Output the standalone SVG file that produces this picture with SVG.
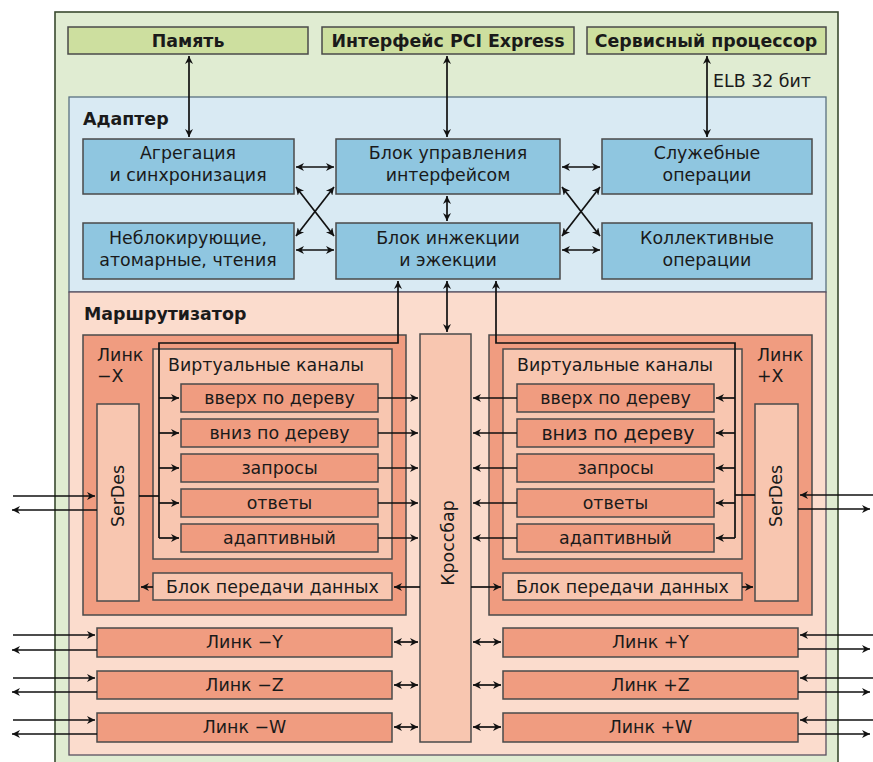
<svg xmlns="http://www.w3.org/2000/svg" width="873" height="762" viewBox="0 0 873 762">
<defs>
<marker id="ah" viewBox="0 0 10 10" refX="10" refY="5" markerWidth="11" markerHeight="8" markerUnits="userSpaceOnUse" orient="auto-start-reverse"><path d="M0,0 L10,5 L0,10 L3,5 z" fill="#111"/></marker>
<style>
text{font-family:"DejaVu Sans",Verdana,sans-serif;font-size:17.4px;fill:#1a1a1a}
.b{font-weight:bold}
.c{text-anchor:middle}
.bx{stroke:#4a4a4a;stroke-width:1.5}
.top{fill:#cddf9f}
.blue{fill:#8fc6e0}
.sal{fill:#f09c80}
.lt{fill:#f8c6b0}
.ln{fill:none;stroke:#111;stroke-width:1.7}
.a2{marker-start:url(#ah);marker-end:url(#ah)}
.a1{marker-end:url(#ah)}
</style>
</defs>
<rect width="873" height="762" fill="#ffffff"/>
<g id="chip"><rect x="55" y="12" width="783" height="760" fill="#e0ecd2" stroke="#3a4a30" stroke-width="1.6"/></g>
<g id="mem"><rect class="bx top" x="68" y="27" width="240" height="27"/><text class="b c" x="188" y="47">Память</text></g>
<g id="pci"><rect class="bx top" x="322" y="27" width="252" height="27"/><text class="b c" x="448" y="47">Интерфейс PCI Express</text></g>
<g id="sp"><rect class="bx top" x="587" y="27" width="239" height="27"/><text class="b c" x="706" y="47">Сервисный процессор</text></g>
<text x="713" y="87">ELB 32 бит</text>
<g id="adapter"><rect x="69" y="97" width="757" height="195" fill="#d9eaf3" stroke="#5a7080" stroke-width="1.3"/><text class="b" x="83" y="125">Адаптер</text></g>
<g id="agg"><rect class="bx blue" x="83" y="139" width="211" height="55"/><text class="c" x="188" y="159">Агрегация</text><text class="c" x="188" y="181">и синхронизация</text></g>
<g id="ifc"><rect class="bx blue" x="336" y="139" width="224" height="55"/><text class="c" x="448" y="159">Блок управления</text><text class="c" x="448" y="181">интерфейсом</text></g>
<g id="svc"><rect class="bx blue" x="602" y="139" width="210" height="55"/><text class="c" x="707" y="159">Служебные</text><text class="c" x="707" y="181">операции</text></g>
<g id="nb"><rect class="bx blue" x="83" y="223" width="211" height="56"/><text class="c" x="188" y="244">Неблокирующие,</text><text class="c" x="188" y="266">атомарные, чтения</text></g>
<g id="inj"><rect class="bx blue" x="336" y="223" width="224" height="56"/><text class="c" x="448" y="244">Блок инжекции</text><text class="c" x="448" y="266">и эжекции</text></g>
<g id="coll"><rect class="bx blue" x="602" y="223" width="210" height="56"/><text class="c" x="707" y="244">Коллективные</text><text class="c" x="707" y="266">операции</text></g>
<g id="router"><rect x="69" y="292" width="757" height="463" fill="#fbdccd" stroke="#5a5060" stroke-width="1.3"/><text class="b" x="84" y="320">Маршрутизатор</text></g>
<g id="linkmx"><rect class="bx sal" x="83" y="335" width="323" height="280"/><text x="97" y="361">Линк</text><text x="97" y="382">−X</text></g>
<g id="linkpx"><rect class="bx sal" x="489" y="335" width="323" height="280"/><text x="757" y="361">Линк</text><text x="757" y="382">+X</text></g>
<g id="vcl"><rect class="bx lt" x="153" y="349" width="239" height="210"/><text x="168" y="371">Виртуальные каналы</text>
<rect class="bx sal" x="181" y="384" width="197" height="28"/><text class="c" x="279.5" y="404">вверх по дереву</text>
<rect class="bx sal" x="181" y="419" width="197" height="28"/><text class="c" x="279.5" y="439">вниз по дереву</text>
<rect class="bx sal" x="181" y="454" width="197" height="28"/><text class="c" x="279.5" y="474">запросы</text>
<rect class="bx sal" x="181" y="489" width="197" height="28"/><text class="c" x="279.5" y="509">ответы</text>
<rect class="bx sal" x="181" y="524" width="197" height="28"/><text class="c" x="279.5" y="544">адаптивный</text></g>
<g id="vcr"><rect class="bx lt" x="503" y="349" width="239" height="210"/><text x="517" y="371">Виртуальные каналы</text>
<rect class="bx sal" x="517" y="384" width="197" height="28"/><text class="c" x="615.5" y="404">вверх по дереву</text>
<rect class="bx sal" x="517" y="419" width="197" height="28"/><text class="c" x="618" y="440" style="font-size:19px">вниз по дереву</text>
<rect class="bx sal" x="517" y="454" width="197" height="28"/><text class="c" x="615.5" y="474">запросы</text>
<rect class="bx sal" x="517" y="489" width="197" height="28"/><text class="c" x="615.5" y="509">ответы</text>
<rect class="bx sal" x="517" y="524" width="197" height="28"/><text class="c" x="615.5" y="544">адаптивный</text></g>
<g id="serdesl"><rect class="bx lt" x="97" y="404" width="42" height="197"/><text class="c" transform="translate(124,496) rotate(-90)">SerDes</text></g>
<g id="serdesr"><rect class="bx lt" x="755" y="404" width="43" height="197"/><text class="c" transform="translate(782,496) rotate(-90)">SerDes</text></g>
<g id="txl"><rect class="bx lt" x="153" y="573" width="239" height="27"/><text class="c" x="272.5" y="593">Блок передачи данных</text></g>
<g id="txr"><rect class="bx lt" x="503" y="573" width="239" height="27"/><text class="c" x="622.5" y="593">Блок передачи данных</text></g>
<g id="xbar"><rect class="bx lt" x="420" y="334" width="51" height="408"/><text class="c" transform="translate(454,543) rotate(-90)">Кроссбар</text></g>
<g id="lmy"><rect class="bx sal" x="97" y="628" width="295" height="29"/><text class="c" x="244.5" y="648">Линк −Y</text></g>
<g id="lmz"><rect class="bx sal" x="97" y="671" width="295" height="28"/><text class="c" x="244.5" y="691">Линк −Z</text></g>
<g id="lmw"><rect class="bx sal" x="97" y="713" width="295" height="29"/><text class="c" x="244.5" y="733">Линк −W</text></g>
<g id="lpy"><rect class="bx sal" x="503" y="628" width="295" height="29"/><text class="c" x="650.5" y="648">Линк +Y</text></g>
<g id="lpz"><rect class="bx sal" x="503" y="671" width="295" height="28"/><text class="c" x="650.5" y="691">Линк +Z</text></g>
<g id="lpw"><rect class="bx sal" x="503" y="713" width="295" height="29"/><text class="c" x="650.5" y="733">Линк +W</text></g>
<g id="connectors">
<path class="ln a2" d="M189,56 V137"/>
<path class="ln a2" d="M447,56 V137"/>
<path class="ln a2" d="M707,56 V137"/>
<path class="ln a2" d="M296,167 H334"/>
<path class="ln a2" d="M562,167 H600"/>
<path class="ln a2" d="M296,250 H334"/>
<path class="ln a2" d="M562,250 H600"/>
<path class="ln a2" d="M296,187 L334,236"/>
<path class="ln a2" d="M296,236 L334,187"/>
<path class="ln a2" d="M562,187 L600,236"/>
<path class="ln a2" d="M562,236 L600,187"/>
<path class="ln a2" d="M447,196 V221"/>
<path class="ln a2" d="M447,281 V332"/>
<path class="ln a1" d="M159,538 V343 H398 V281"/>
<path class="ln a1" d="M735,538 V343 H496 V281"/>
<path class="ln a1" d="M159,398 H179"/><path class="ln a1" d="M159,433 H179"/><path class="ln a1" d="M159,468 H179"/><path class="ln a1" d="M159,503 H179"/><path class="ln a1" d="M159,538 H179"/>
<path class="ln" d="M139,496 H159"/>
<path class="ln a1" d="M378,398 H418"/><path class="ln a1" d="M378,433 H418"/><path class="ln a1" d="M378,468 H418"/><path class="ln a1" d="M378,503 H418"/><path class="ln a1" d="M378,538 H418"/>
<path class="ln a1" d="M735,398 H716"/><path class="ln a1" d="M735,433 H716"/><path class="ln a1" d="M735,468 H716"/><path class="ln a1" d="M735,503 H716"/><path class="ln a1" d="M735,538 H716"/>
<path class="ln" d="M755,495 H735"/>
<path class="ln a1" d="M517,398 H473"/><path class="ln a1" d="M517,433 H473"/><path class="ln a1" d="M517,468 H473"/><path class="ln a1" d="M517,503 H473"/><path class="ln a1" d="M517,538 H473"/>
<path class="ln a1" d="M420,587 H394"/>
<path class="ln a1" d="M153,587 H141"/>
<path class="ln a1" d="M471,587 H501"/>
<path class="ln a1" d="M742,587 H753"/>
<path class="ln a1" d="M13,496 H95"/><path class="ln a1" d="M97,510 H12"/>
<path class="ln a1" d="M873,495 H800"/><path class="ln a1" d="M798,509 H870"/>
<path class="ln a1" d="M13,635 H95"/><path class="ln a1" d="M97,650 H12"/>
<path class="ln a1" d="M13,678 H95"/><path class="ln a1" d="M97,692 H12"/>
<path class="ln a1" d="M13,720 H95"/><path class="ln a1" d="M97,734 H12"/>
<path class="ln a1" d="M873,635 H800"/><path class="ln a1" d="M798,649 H870"/>
<path class="ln a1" d="M873,678 H800"/><path class="ln a1" d="M798,692 H870"/>
<path class="ln a1" d="M873,720 H800"/><path class="ln a1" d="M798,734 H870"/>
<path class="ln a2" d="M394,642 H418"/><path class="ln a2" d="M394,685 H418"/><path class="ln a2" d="M394,727 H418"/>
<path class="ln a2" d="M473,642 H501"/><path class="ln a2" d="M473,685 H501"/><path class="ln a2" d="M473,727 H501"/>
</g>
</svg>
